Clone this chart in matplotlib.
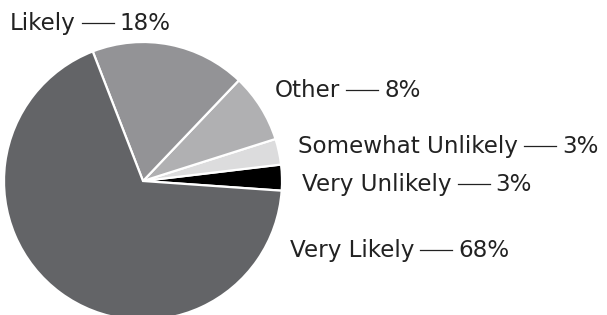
import matplotlib.pyplot as plt
from matplotlib.transforms import IdentityTransform
from matplotlib.lines import Line2D

labels = ["Very Unlikely", "Somewhat Unlikely", "Other", "Likely", "Very Likely"]
values = [3, 3, 8, 18, 68]
colors = ["#000000", "#dcdcdd", "#b0b0b2", "#939396", "#636467"]

# label anchor (left x, baseline y from top) in pixels
label_pos = {
    "Likely": (10, 30),
    "Other": (275, 97),
    "Somewhat Unlikely": (298, 153),
    "Very Unlikely": (302, 191),
    "Very Likely": (290, 257),
}

W, H = 607, 315
fig = plt.figure(figsize=(W / 100, H / 100), dpi=100)
cx, cy, r = 143, 181, 139
ax = fig.add_axes([(cx - r) / W, (H - cy - r) / H, 2 * r / W, 2 * r / H])
ax.pie(values, colors=colors, startangle=-4, counterclock=True, radius=1,
       wedgeprops=dict(edgecolor="white", linewidth=1.6))
ax.set_xlim(-1, 1)
ax.set_ylim(-1, 1)
ax.set_aspect("equal")
ax.axis("off")

font = dict(family="DejaVu Sans", fontsize=16.6, color="#222222")
fig.canvas.draw()
renderer = fig.canvas.get_renderer()
for lab, val in zip(labels, values):
    x, yb = label_pos[lab]
    y = H - yb
    t = fig.text(x, y, lab, transform=IdentityTransform(), va="baseline", ha="left", **font)
    bb = t.get_window_extent(renderer)
    x1 = bb.x1 + 6
    fig.add_artist(Line2D([x1, x1 + 32], [y + 7, y + 7], transform=IdentityTransform(),
                          color="#222222", linewidth=0.9))
    fig.text(x1 + 38, y, f"{val}%", transform=IdentityTransform(), va="baseline",
             ha="left", **font)

fig.savefig("out.png", dpi=100)
